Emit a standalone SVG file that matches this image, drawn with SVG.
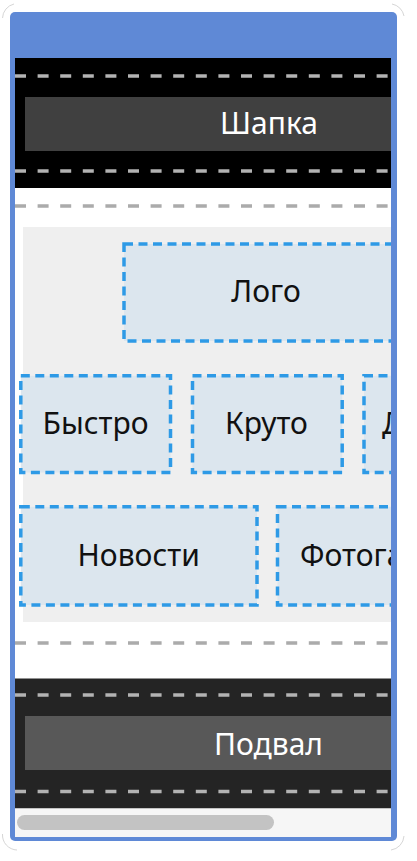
<svg xmlns="http://www.w3.org/2000/svg" width="417" height="861" viewBox="0 0 417 861">
  <style>
    .lbl{font-family:"Noto Sans","DejaVu Sans",sans-serif;font-size:30px;}
    .white{fill:#ffffff;}
    .dark{fill:#111111;}
    .node{fill:#dce6ee;stroke:#2e9ae6;stroke-width:3.5;stroke-dasharray:9 5.5;}
    .sep{stroke-width:3.5;stroke-dasharray:11 11.6;fill:none;}
    .corner{fill:none;stroke:#d6d6d6;stroke-width:1;}
  </style>
  <defs>
    <clipPath id="content">
      <rect x="15" y="58" width="376" height="779"/>
    </clipPath>
  </defs>

  <g id="frame-shadow">
    <path class="corner" d="M2.5,18 A15,15 0 0 1 14,4"/>
    <path class="corner" d="M392,4 A15,15 0 0 1 404,16"/>
    <path class="corner" d="M2.5,834 A15,15 0 0 0 17,850"/>
    <path class="corner" d="M404,836 A15,15 0 0 1 391,850"/>
  </g>

  <g id="frame">
    <rect x="10" y="12" width="387" height="829" rx="5" fill="#5f89d6"/>
  </g>

  <g clip-path="url(#content)">
    <rect x="15" y="58" width="376" height="779" fill="#ffffff"/>

    <g id="header">
      <rect x="15" y="58" width="376" height="130" fill="#000000"/>
      <line class="sep" x1="15" y1="76" x2="391" y2="76" stroke="#b3b3b3"/>
      <line class="sep" x1="15" y1="171" x2="391" y2="171" stroke="#b3b3b3"/>
    </g>
    <g id="shapka">
      <rect x="25" y="97" width="487" height="54" fill="#404040"/>
      <text class="lbl white" x="269" y="133.5" text-anchor="middle">Шапка</text>
    </g>

    <line class="sep" x1="15" y1="206" x2="391" y2="206" stroke="#ababab"/>

    <g id="main">
      <rect x="23" y="227" width="400" height="395" fill="#efefef"/>
    </g>

    <g id="logo">
      <rect class="node" x="124" y="244" width="284" height="97"/>
      <text class="lbl dark" x="266" y="301.7" text-anchor="middle">Лого</text>
    </g>
    <g id="bystro">
      <rect class="node" x="20.8" y="375.8" width="149.7" height="96.7"/>
      <text class="lbl dark" x="95.5" y="434" text-anchor="middle">Быстро</text>
    </g>
    <g id="kruto">
      <rect class="node" x="192.5" y="375.8" width="149.7" height="96.7"/>
      <text class="lbl dark" x="266.5" y="434" text-anchor="middle">Круто</text>
    </g>
    <g id="third">
      <rect class="node" x="364" y="375.8" width="150" height="96.7"/>
      <text class="lbl dark" x="382" y="434">Д</text>
    </g>
    <g id="novosti">
      <rect class="node" x="20.8" y="506.8" width="236.2" height="98.2"/>
      <text class="lbl dark" x="138.7" y="566" text-anchor="middle">Новости</text>
    </g>
    <g id="foto">
      <rect class="node" x="277.5" y="506.8" width="236.2" height="98.2"/>
      <text class="lbl dark" x="300" y="566">Фотога</text>
    </g>

    <line class="sep" x1="15" y1="643" x2="391" y2="643" stroke="#ababab"/>

    <g id="footer">
      <rect x="15" y="678.5" width="376" height="130" fill="#242424"/>
      <line class="sep" x1="15" y1="695" x2="391" y2="695" stroke="#b3b3b3"/>
      <line class="sep" x1="15" y1="791.5" x2="391" y2="791.5" stroke="#b3b3b3"/>
    </g>
    <g id="podval">
      <rect x="25" y="716" width="487" height="54" fill="#585858"/>
      <text class="lbl white" x="268.5" y="754.5" text-anchor="middle">Подвал</text>
    </g>

    <g id="scrollbar">
      <rect x="15" y="808.5" width="376" height="28.5" fill="#f6f6f6"/>
      <rect x="17" y="815" width="257" height="15" rx="7.5" fill="#c3c3c3"/>
    </g>
  </g>

  <g id="connectors"/>
</svg>
